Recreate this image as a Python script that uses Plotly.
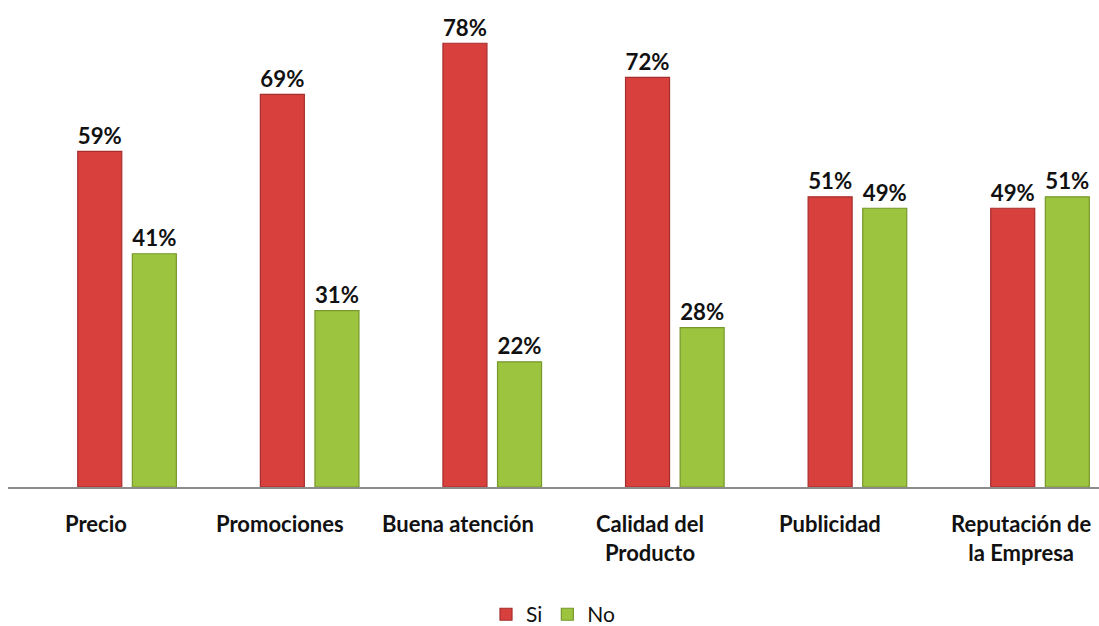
import plotly.graph_objects as go

categorias = ["Precio", "Promociones", "Buena atención", "Calidad del<br>Producto",
              "Publicidad", "Reputación de<br>la Empresa"]
si = [59, 69, 78, 72, 51, 49]
no = [41, 31, 22, 28, 49, 51]

posiciones = list(range(len(categorias)))
ancho = 0.241

fuente = "Lato, 'Open Sans', sans-serif"
negro = "#111111"

fig = go.Figure()
fig.add_trace(go.Bar(
    name="Si", x=posiciones, y=si, width=ancho, offset=-0.27,
    marker=dict(color="#D8403E", line=dict(color="#A52E2C", width=1.2)),
    text=[f"{v}%" for v in si], textposition="outside",
    textfont=dict(family=fuente, size=24, color=negro, weight="bold"),
    cliponaxis=False,
))
fig.add_trace(go.Bar(
    name="No", x=posiciones, y=no, width=ancho, offset=0.029,
    marker=dict(color="#9CC43F", line=dict(color="#76972B", width=1.2)),
    text=[f"{v}%" for v in no], textposition="outside",
    textfont=dict(family=fuente, size=24, color=negro, weight="bold"),
    cliponaxis=False,
))

# category captions under the axis, nudged left like the original layout
desplazamiento = [-31, -30, -34, -25, -27, -19]
for pos, texto, dx in zip(posiciones, categorias, desplazamiento):
    fig.add_annotation(
        x=pos, xref="x", y=0, yref="paper", yanchor="top", xanchor="center",
        xshift=dx, yshift=-21, text=texto, showarrow=False, align="center",
        font=dict(family=fuente, size=22, color=negro, weight="bold"),
    )

fig.update_layout(
    width=1099, height=626,
    margin=dict(l=8, r=0, t=0, b=139, autoexpand=False),
    paper_bgcolor="white", plot_bgcolor="white",
    barmode="group",
    showlegend=True,
    legend=dict(orientation="h", x=0.5, xanchor="center", y=-0.262, yanchor="middle",
                font=dict(family=fuente, size=21, color=negro),
                itemwidth=30, traceorder="normal"),
    xaxis=dict(
        range=[-0.652, 5.323], tickmode="array", tickvals=posiciones, showticklabels=False,
        showgrid=False, zeroline=False, showline=True, linecolor="#8C8C8C", linewidth=2,
        automargin=False,
    ),
    yaxis=dict(range=[0, 85.6], visible=False, showgrid=False, zeroline=False,
               automargin=False),
)

fig.write_html("out.html")
